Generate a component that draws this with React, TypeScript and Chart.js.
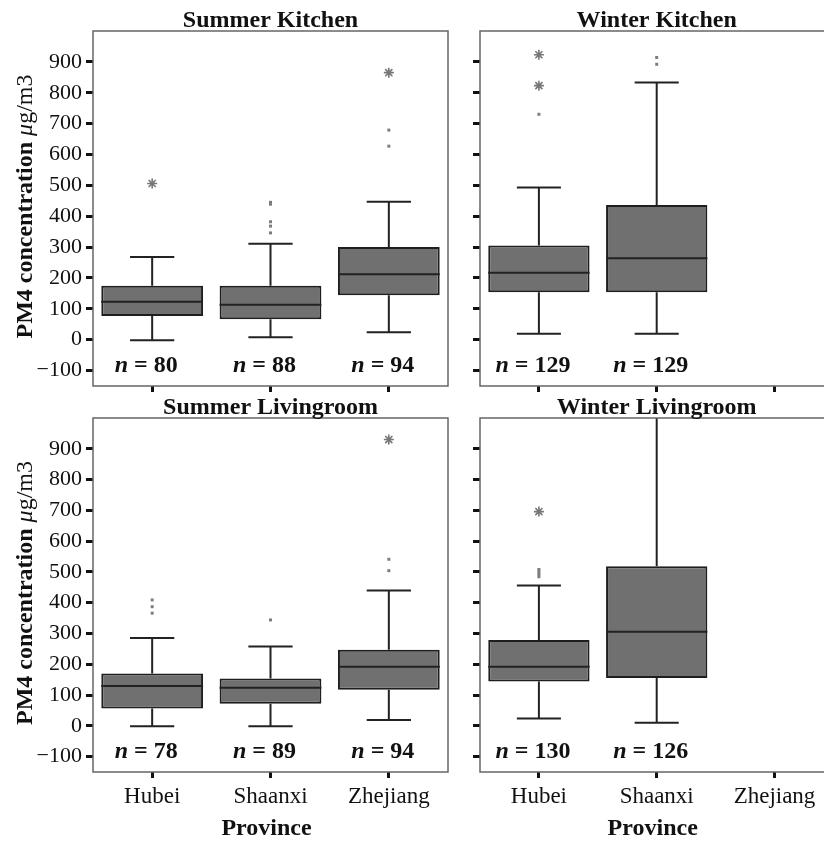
import React, { useEffect, useRef } from 'react';
import { Chart, registerables } from 'chart.js';

Chart.register(...registerables);

const provinces = ['Hubei', 'Shaanxi', 'Zhejiang'];
const yTickValues = [-100, 0, 100, 200, 300, 400, 500, 600, 700, 800, 900];

// Summer Kitchen
const skTitle = 'Summer Kitchen';
const skMin = [-2, 8, 24];
const skQ1 = [77, 66, 144];
const skMedian = [123, 113, 212];
const skQ3 = [175, 175, 300];
const skMax = [268, 311, 447];
const skN = [80, 88, 94];
const skExtremes = [[506], [], [865]];
const skOutliers = [[], [445, 439, 382, 368, 346], [679, 627]];

// Winter Kitchen
const wkTitle = 'Winter Kitchen';
const wkMin = [19, 19, null];
const wkQ1 = [154, 154, null];
const wkMedian = [217, 264, null];
const wkQ3 = [305, 436, null];
const wkMax = [493, 833, null];
const wkN = [129, 129, null];
const wkExtremes = [[923, 823], [], []];
const wkOutliers = [[730], [914, 892], []];

// Summer Livingroom
const slTitle = 'Summer Livingroom';
const slMin = [-1, -1, 19];
const slQ1 = [56, 72, 117];
const slMedian = [129, 124, 192];
const slQ3 = [170, 154, 247];
const slMax = [285, 258, 440];
const slN = [78, 89, 94];
const slExtremes = [[], [], [930]];
const slOutliers = [[409, 387, 366], [344], [541, 504]];

// Winter Livingroom
const wlTitle = 'Winter Livingroom';
const wlMin = [24, 10, null];
const wlQ1 = [144, 155, null];
const wlMedian = [192, 306, null];
const wlQ3 = [279, 518, null];
const wlMax = [456, 1150, null];
const wlN = [130, 126, null];
const wlExtremes = [[696], [], []];
const wlOutliers = [[508, 500, 492, 484], [], []];

const FONT = '"Liberation Serif", "Times New Roman", serif';

type Panel = {
  title: string;
  min: (number | null)[];
  q1: (number | null)[];
  median: (number | null)[];
  q3: (number | null)[];
  max: (number | null)[];
  n: (number | null)[];
  extremes: number[][];
  outliers: number[][];
  left: number;
  top: number;
  width: number;
  height: number;
  padding: { top: number; right: number; bottom: number; left: number };
  yAxisWidth: number;
  xAxisHeight: number;
  showY: boolean;
  showX: boolean;
};

const panels: Panel[] = [
  {
    title: skTitle, min: skMin, q1: skQ1, median: skMedian, q3: skQ3, max: skMax, n: skN,
    extremes: skExtremes, outliers: skOutliers,
    left: 0, top: 0, width: 460, height: 410,
    padding: { top: 31, right: 12, bottom: 10, left: 0 }, yAxisWidth: 93, xAxisHeight: 14,
    showY: true, showX: false,
  },
  {
    title: wkTitle, min: wkMin, q1: wkQ1, median: wkMedian, q3: wkQ3, max: wkMax, n: wkN,
    extremes: wkExtremes, outliers: wkOutliers,
    left: 460, top: 0, width: 380, height: 410,
    padding: { top: 31, right: 6, bottom: 10, left: 0 }, yAxisWidth: 20, xAxisHeight: 14,
    showY: false, showX: false,
  },
  {
    title: slTitle, min: slMin, q1: slQ1, median: slMedian, q3: slQ3, max: slMax, n: slN,
    extremes: slExtremes, outliers: slOutliers,
    left: 0, top: 390, width: 460, height: 451,
    padding: { top: 28, right: 12, bottom: 0, left: 0 }, yAxisWidth: 93, xAxisHeight: 69,
    showY: true, showX: true,
  },
  {
    title: wlTitle, min: wlMin, q1: wlQ1, median: wlMedian, q3: wlQ3, max: wlMax, n: wlN,
    extremes: wlExtremes, outliers: wlOutliers,
    left: 460, top: 390, width: 380, height: 451,
    padding: { top: 28, right: 6, bottom: 0, left: 0 }, yAxisWidth: 20, xAxisHeight: 69,
    showY: false, showX: true,
  },
];

function drawParts(ctx: CanvasRenderingContext2D, parts: { t: string; f: string }[], x: number, y: number, align: 'center' | 'left') {
  let total = 0;
  const widths = parts.map((p) => {
    ctx.font = p.f;
    const w = ctx.measureText(p.t).width;
    total += w;
    return w;
  });
  let cx = align === 'center' ? x - total / 2 : x;
  ctx.textAlign = 'left';
  parts.forEach((p, i) => {
    ctx.font = p.f;
    ctx.fillText(p.t, cx, y);
    cx += widths[i];
  });
}

function makeChart(canvas: HTMLCanvasElement, panel: Panel) {
  const boxData = provinces.map((_, i) =>
    panel.q1[i] == null ? null : [panel.q1[i] as number, panel.q3[i] as number]
  );
  const starPts: { x: string; y: number }[] = [];
  const dotPts: { x: string; y: number }[] = [];
  panel.extremes.forEach((arr, i) => arr.forEach((v) => starPts.push({ x: provinces[i], y: v })));
  panel.outliers.forEach((arr, i) => arr.forEach((v) => dotPts.push({ x: provinces[i], y: v })));

  const whiskerPlugin = {
    id: 'whiskers',
    afterDatasetsDraw(chart: any) {
      const { ctx, chartArea: ca, scales } = chart;
      const x = scales.x;
      const y = scales.y;
      const meta = chart.getDatasetMeta(0);
      const step = x.getPixelForValue(1) - x.getPixelForValue(0);
      const capHalf = step * 0.187;
      ctx.save();
      ctx.beginPath();
      ctx.rect(ca.left, ca.top, ca.right - ca.left, ca.bottom - ca.top);
      ctx.clip();
      ctx.strokeStyle = '#222';
      ctx.lineWidth = 2;
      provinces.forEach((_, i) => {
        if (panel.q1[i] == null) return;
        const bar = meta.data[i];
        const cx = x.getPixelForValue(i);
        const yMin = y.getPixelForValue(panel.min[i]);
        const yQ1 = y.getPixelForValue(panel.q1[i]);
        const yMed = y.getPixelForValue(panel.median[i]);
        const yQ3 = y.getPixelForValue(panel.q3[i]);
        const yMax = y.getPixelForValue(panel.max[i]);
        const half = bar ? bar.width / 2 : step * 0.43;
        ctx.beginPath();
        ctx.moveTo(cx, yQ3);
        ctx.lineTo(cx, yMax);
        ctx.moveTo(cx - capHalf, yMax);
        ctx.lineTo(cx + capHalf, yMax);
        ctx.moveTo(cx, yQ1);
        ctx.lineTo(cx, yMin);
        ctx.moveTo(cx - capHalf, yMin);
        ctx.lineTo(cx + capHalf, yMin);
        ctx.moveTo(cx - half, yMed);
        ctx.lineTo(cx + half, yMed);
        ctx.stroke();
      });
      ctx.restore();
    },
  };

  const decorPlugin = {
    id: 'decor',
    afterDraw(chart: any) {
      const { ctx, chartArea: ca, scales } = chart;
      const x = scales.x;
      const y = scales.y;
      ctx.save();
      // frame
      ctx.strokeStyle = '#666';
      ctx.lineWidth = 1.5;
      ctx.strokeRect(ca.left, ca.top, ca.right - ca.left, ca.bottom - ca.top);
      ctx.fillStyle = '#111';
      // title
      ctx.font = `bold 24px ${FONT}`;
      ctx.textAlign = 'center';
      ctx.textBaseline = 'alphabetic';
      ctx.fillText(panel.title, (ca.left + ca.right) / 2, ca.top - 4.5);
      // n labels
      provinces.forEach((_, i) => {
        if (panel.n[i] == null) return;
        const cx = x.getPixelForValue(i) - 6;
        const yy = y.getPixelForValue(-104);
        drawParts(ctx, [
          { t: 'n', f: `italic bold 24px ${FONT}` },
          { t: ' = ' + panel.n[i], f: `bold 24px ${FONT}` },
        ], cx, yy, 'center');
      });
      // y title
      if (panel.showY) {
        ctx.save();
        ctx.translate(32, (ca.top + ca.bottom) / 2 - 2);
        ctx.rotate(-Math.PI / 2);
        ctx.textBaseline = 'alphabetic';
        drawParts(ctx, [
          { t: 'PM4 concentration ', f: `bold 24px ${FONT}` },
          { t: 'μ', f: `italic 24px ${FONT}` },
          { t: 'g/m3', f: `24px ${FONT}` },
        ], 0, 0, 'center');
        ctx.restore();
      }
      // x title
      if (panel.showX) {
        ctx.font = `bold 24px ${FONT}`;
        ctx.textAlign = 'center';
        ctx.textBaseline = 'alphabetic';
        ctx.fillText('Province', (ca.left + ca.right) / 2 - 4, ca.bottom + 63);
      }
      ctx.restore();
    },
  };

  return new Chart(canvas, {
    type: 'bar',
    data: {
      labels: provinces,
      datasets: [
        {
          type: 'bar',
          label: 'IQR',
          data: boxData as any,
          backgroundColor: '#707070',
          borderColor: '#1e1e1e',
          borderWidth: 2,
          borderSkipped: false,
          barPercentage: 0.86,
          categoryPercentage: 1,
          order: 2,
        },
        {
          type: 'line',
          label: 'Extremes',
          data: starPts as any,
          showLine: false,
          pointStyle: 'star',
          pointRadius: 5,
          borderColor: '#777',
          borderWidth: 1.6,
          backgroundColor: '#777',
          order: 1,
        },
        {
          type: 'line',
          label: 'Outliers',
          data: dotPts as any,
          showLine: false,
          pointStyle: 'rect',
          pointRadius: 2.1,
          borderWidth: 0,
          backgroundColor: '#7c7c7c',
          order: 1,
        },
      ],
    },
    options: {
      animation: false,
      responsive: false,
      maintainAspectRatio: false,
      layout: { padding: panel.padding },
      plugins: { legend: { display: false }, tooltip: { enabled: false }, title: { display: false } },
      scales: {
        x: {
          type: 'category',
          offset: true,
          grid: { offset: false, drawOnChartArea: false, drawTicks: true, tickLength: 6, tickWidth: 3, tickColor: '#111' },
          border: { display: false },
          ticks: { display: panel.showX, padding: 5, color: '#111', font: { family: FONT, size: 23 } },
          afterFit: (scale: any) => { scale.height = panel.xAxisHeight; },
        } as any,
        y: {
          type: 'linear',
          min: -150,
          max: 1000,
          grid: { drawOnChartArea: false, drawTicks: true, tickLength: 7, tickWidth: 3, tickColor: '#111' },
          border: { display: false },
          ticks: {
            display: panel.showY,
            padding: 4,
            color: '#111',
            font: { family: FONT, size: 22 },
            callback: (v: any) => (Number(v) < 0 ? '\u2212' + Math.abs(Number(v)) : String(v)),
          },
          afterBuildTicks: (scale: any) => { scale.ticks = yTickValues.map((v) => ({ value: v })); },
          afterFit: (scale: any) => { scale.width = panel.yAxisWidth; },
        } as any,
      },
    },
    plugins: [whiskerPlugin, decorPlugin],
  } as any);
}

function PanelCanvas({ panel }: { panel: Panel }) {
  const ref = useRef<HTMLCanvasElement>(null);
  useEffect(() => {
    if (!ref.current) return;
    const chart = makeChart(ref.current, panel);
    return () => chart.destroy();
  }, [panel]);
  return (
    <canvas
      ref={ref}
      width={panel.width}
      height={panel.height}
      style={{ position: 'absolute', left: panel.left, top: panel.top, width: panel.width, height: panel.height }}
    />
  );
}

export default function App() {
  return (
    <div style={{ position: 'fixed', left: 0, top: 0, width: 824, height: 841, overflow: 'hidden', background: '#fff' }}>
      {panels.map((p) => (
        <PanelCanvas key={p.title} panel={p} />
      ))}
    </div>
  );
}
